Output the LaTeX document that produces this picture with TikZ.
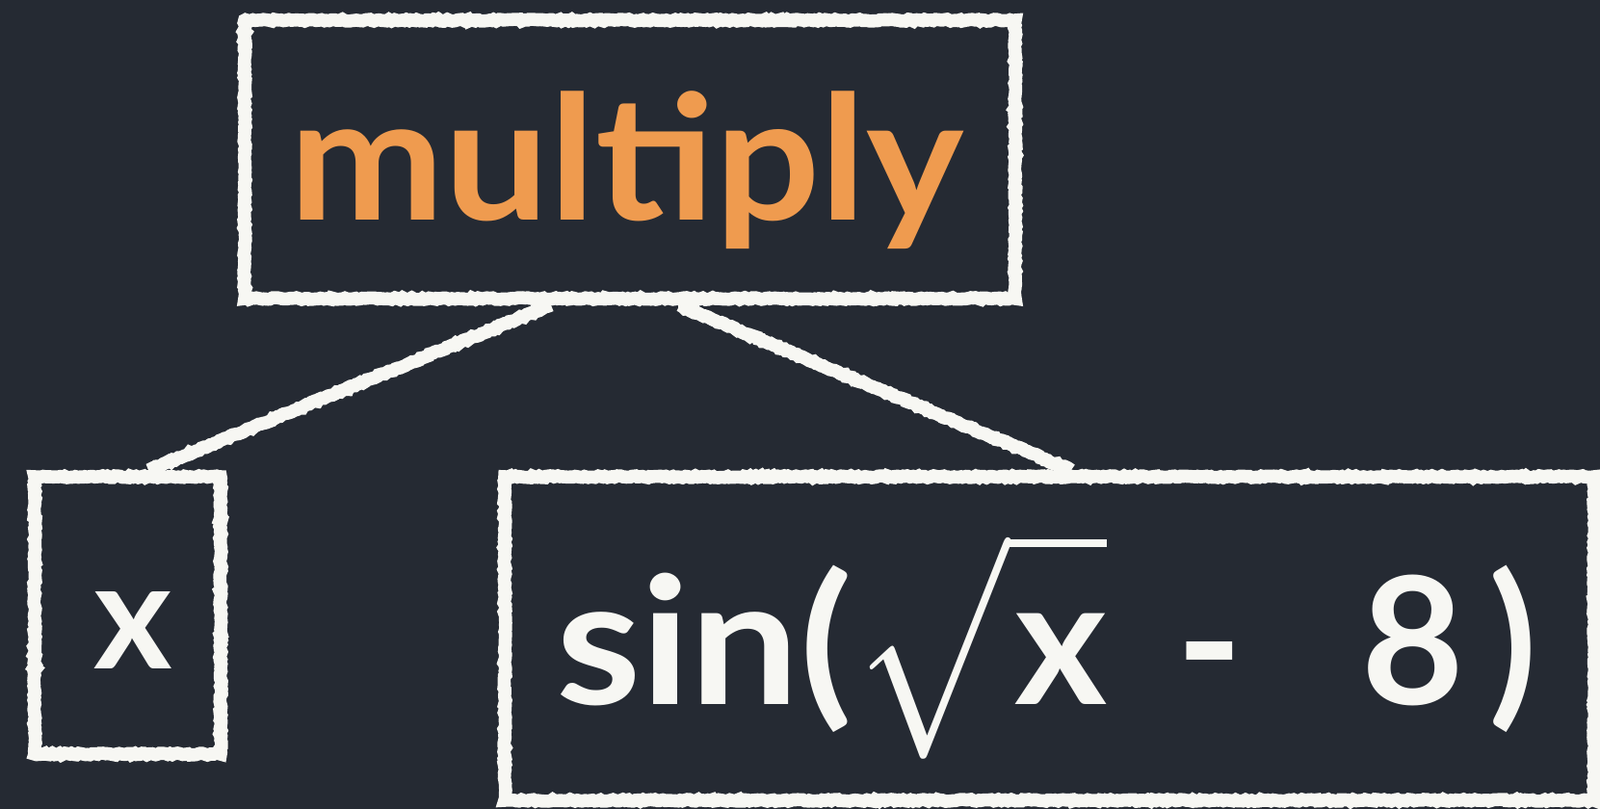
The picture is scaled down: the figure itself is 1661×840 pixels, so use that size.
\RequirePackage{fix-cm}
\documentclass[tikz,border=0pt]{standalone}
\usepackage{fontspec}
\usepackage{graphicx}
\setmainfont{Lato}
\newfontfamily\chalkfont{Lato}[UprightFont={* Bold}]
\usetikzlibrary{calc,decorations.pathmorphing}
\definecolor{board}{HTML}{252A33}
\definecolor{chalkwhite}{HTML}{F7F7F3}
\definecolor{chalkorange}{HTML}{EF9B4F}
\newcommand{\bigradical}{\scalebox{0.82}[1]{\fontsize{115}{115}\selectfont$\surd$}\rule[81.3pt]{51pt}{4.4pt}}
\begin{document}
\begin{tikzpicture}[x=0.5pt,y=-0.5pt,
  chalkline/.style={draw=chalkwhite, line width=6.8pt, line join=miter,
    decorate, decoration={random steps, segment length=1.3pt, amplitude=0.5pt}},
  chalkbox/.style={chalkline, rectangle, inner sep=0pt},
  multtext/.style={text=chalkorange, inner sep=0pt, font=\chalkfont\fontsize{90}{100}\selectfont},
  exprtext/.style={text=chalkwhite, inner sep=0pt, font=\chalkfont\fontsize{92}{100}\selectfont},
  vartext/.style={text=chalkwhite, inner sep=0pt, font=\chalkfont\fontsize{78}{80}\selectfont}]
\useasboundingbox (0,0) rectangle (1661,840);
\fill[board] (0,0) rectangle (1661,840);
% boxes
\node[chalkbox, minimum width=400pt, minimum height=144.5pt] (m) at (654,165.5) {};
\node[chalkbox, minimum width=96.5pt, minimum height=144pt] (xb) at (132.5,639) {};
\node[chalkbox, minimum width=565.5pt, minimum height=168pt] (sb) at (1089.5,663) {};
% connectors
\draw[chalkline] ($(m.south)+(-82,0)$) -- ($(xb.north)+(21.5,0)$);
\draw[chalkline] ($(m.south)+(50,0)$) -- ($(sb.north)+(22.5,0)$);
% texts
\node[multtext, anchor=base west] (mt) at (300,228) {\resizebox{350pt}{\height}{multiply}};
\node[vartext, anchor=base] (xt) at (138,694) {x};
\node[exprtext, anchor=base west] (st) at (577,731) {%
  \makebox[156pt][l]{\resizebox{154pt}{\height}{sin(}}%
  \makebox[0pt][l]{\bigradical}%
  \hspace{82pt}\makebox[0pt][l]{x}%
  \hspace{48.5pt}\hspace{53pt}\makebox[0pt]{-}%
  \hspace{105.5pt}\makebox[0pt]{8}%
  \hspace{51.5pt}\makebox[0pt]{)}};
\end{tikzpicture}
\end{document}
